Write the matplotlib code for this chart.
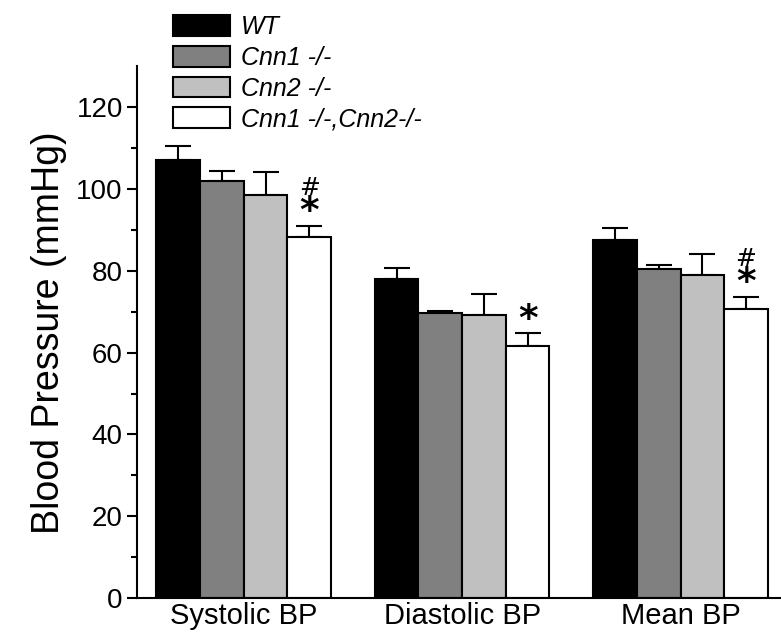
import numpy as np
import matplotlib.pyplot as plt
from matplotlib import font_manager

# pick a narrow sans font if there is one
names = {f.name for f in font_manager.fontManager.ttflist}
font = 'Liberation Sans Narrow' if 'Liberation Sans Narrow' in names else 'Liberation Sans'
plt.rcParams['font.family'] = [font, 'DejaVu Sans']

# data
groups = ['Systolic BP', 'Diastolic BP', 'Mean BP']
genotypes = ['WT', 'Cnn1 -/-', 'Cnn2 -/-', 'Cnn1 -/-,Cnn2-/-']
wt = [107.0, 78.0, 87.5]
cnn1 = [102.0, 69.7, 80.5]
cnn2 = [98.5, 69.3, 79.0]
dko = [88.2, 61.7, 70.6]
wt_err = [3.5, 2.7, 2.9]
cnn1_err = [2.4, 0.6, 1.0]
cnn2_err = [5.6, 5.1, 5.2]
dko_err = [2.7, 3.0, 3.0]
# significance marks over the double knockout bars (hash = vs single KO)
has_hash = [True, False, True]

means = [wt, cnn1, cnn2, dko]
errs = [wt_err, cnn1_err, cnn2_err, dko_err]
colors = ['#000000', '#808080', '#c0c0c0', '#ffffff']

fig = plt.figure(figsize=(7.81, 6.37), dpi=100)
ax = fig.add_axes([0.175, 0.061, 0.825, 0.835])

x = np.arange(len(groups)) * 5.0
width = 1.0
for i in range(4):
    pos = x + (i - 1.5) * width
    ax.bar(pos, means[i], width, color=colors[i], edgecolor='black',
           linewidth=1.5, label=genotypes[i], zorder=2)
    ax.errorbar(pos, means[i], yerr=[np.zeros(3), errs[i]], fmt='none',
                ecolor='black', elinewidth=1.5, capsize=9.5, capthick=1.5,
                zorder=1)

# stars / hashes
for j in range(3):
    top = dko[j] + dko_err[j]
    xp = x[j] + 1.5 * width
    if has_hash[j]:
        ax.annotate('#', (xp, top), xytext=(0, 19), textcoords='offset points',
                    ha='center', va='bottom', fontsize=18,
                    family='DejaVu Sans')
    ax.annotate('*', (xp, top), xytext=(0, -3), textcoords='offset points',
                ha='center', va='bottom', fontsize=27, fontweight='bold',
                family='DejaVu Sans')

ax.set_xlim(-2.45, 12.3)
ax.set_ylim(0, 130)
ax.set_yticks(np.arange(0, 121, 20))
ax.set_yticks(np.arange(10, 121, 20), minor=True)
ax.set_xticks(x)
ax.set_xticklabels(groups, fontsize=21)
ax.tick_params(axis='x', length=0, pad=3)
ax.tick_params(axis='y', which='major', length=7, width=1.5, labelsize=20, pad=3)
ax.tick_params(axis='y', which='minor', length=4, width=1.5)
ax.set_ylabel('Blood Pressure (mmHg)', fontsize=27, labelpad=7)

for s in ['top', 'right']:
    ax.spines[s].set_visible(False)
for s in ['left', 'bottom']:
    ax.spines[s].set_linewidth(1.5)

leg = fig.legend(loc='upper left', bbox_to_anchor=(0.206, 0.996), frameon=False,
                 prop={'style': 'italic', 'size': 18}, handlelength=2.25,
                 handleheight=0.9, labelspacing=0.27, handletextpad=0.45,
                 borderpad=0)

fig.savefig('out.png', dpi=100)
